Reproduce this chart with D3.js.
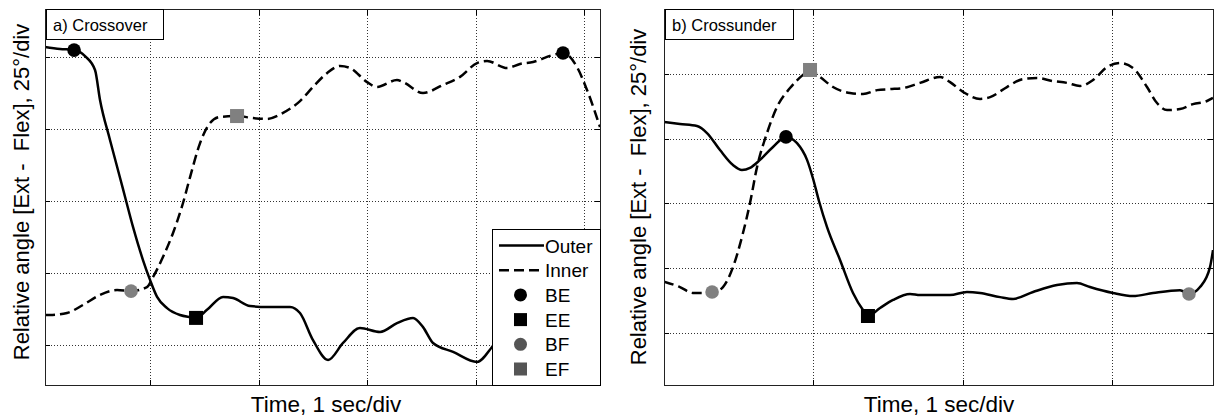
<!DOCTYPE html>
<html>
<head>
<meta charset="utf-8">
<script src="https://cdn.jsdelivr.net/npm/d3@7"></script>
<style>
  html, body { margin: 0; padding: 0; background: #fff; }
  svg { display: block; font-family: "Liberation Sans", Arial, sans-serif; }
</style>
</head>
<body>
<svg id="chart" width="1214" height="419"></svg>
<script>
// ---------------- DATA (time in s, angle in degrees) ----------------
const xTicks_a = [1, 2, 3, 4, 5];
const xTicks_b = [1, 2, 3];
const yTicks = [0, 25, 50, 75, 100];

const outer_a_t = [0.032,0.171,0.300,0.401,0.493,0.539,0.631,0.724,0.770,0.843,0.935,1.000,1.065,1.157,1.276,1.369,1.424,1.525,1.673,1.765,1.922,2.078,2.290,2.382,2.502,2.641,2.779,2.935,3.120,3.276,3.424,3.516,3.608,3.793,4.014,4.152,4.318,4.594,4.871,5.147];
const outer_a_v = [103.5,102.8,102.4,100.3,95.5,85.1,71.2,58.0,51.4,41.0,29.5,22.6,16.7,12.8,10.4,9.7,9.4,12.2,16.7,16.3,13.5,13.2,13.2,11.1,1.7,-5.2,0.7,5.9,4.5,7.6,9.4,6.2,0.7,-2.4,-5.9,-0.7,8.7,15.6,19.1,22.6];

const inner_a_t = [0.032,0.078,0.235,0.382,0.539,0.696,0.825,0.972,1.028,1.120,1.212,1.304,1.369,1.461,1.553,1.645,1.802,1.949,2.078,2.226,2.382,2.502,2.631,2.751,2.843,3.000,3.092,3.276,3.332,3.516,3.700,3.857,4.014,4.106,4.290,4.410,4.530,4.714,4.806,4.935,5.028,5.147];
const inner_a_v = [10.4,10.4,11.1,13.9,17.4,19.1,18.7,20.1,23.6,30.6,38.9,49.3,58.3,70.1,77.1,79.2,79.5,78.8,78.5,80.6,84.7,89.6,94.4,96.9,96.2,91.3,89.6,92.0,91.3,87.5,90.3,93.1,97.9,98.6,96.2,97.6,98.3,100.7,101.4,96.5,88.5,75.7];

const outer_b_t = [0,0.107,0.221,0.288,0.375,0.462,0.522,0.576,0.643,0.730,0.817,0.891,0.958,0.998,1.038,1.092,1.179,1.266,1.333,1.366,1.447,1.534,1.648,1.715,1.915,2.029,2.117,2.251,2.338,2.472,2.632,2.766,2.853,3.007,3.141,3.275,3.456,3.516,3.590,3.657,3.677];
const outer_b_v = [81.5,80.7,79.9,77.2,70.6,64.8,62.9,63.7,66.8,71.8,75.7,73.3,66.8,59.6,50.9,40.8,28.1,15.3,8.7,6.4,9.5,12.6,14.9,14.5,14.5,15.7,15.3,13.7,13.0,15.7,18.4,19.2,17.6,15.3,14.1,15.3,16.4,14.9,17.6,25.3,31.9];

const inner_b_t = [0,0.107,0.194,0.322,0.395,0.462,0.529,0.576,0.623,0.690,0.757,0.844,0.931,0.978,1.045,1.132,1.246,1.333,1.427,1.514,1.601,1.715,1.849,1.916,2.003,2.117,2.184,2.297,2.405,2.498,2.605,2.699,2.786,2.873,2.967,3.054,3.141,3.235,3.302,3.369,3.456,3.543,3.637,3.677];
const inner_b_v = [19.7,17.6,15.3,15.3,17.6,25.3,38.5,50.1,64.0,77.2,87.3,94.6,99.7,101.6,98.9,95.0,92.7,92.3,93.8,94.2,94.6,96.6,98.9,96.9,93.1,90.4,91.1,95.0,98.1,98.5,97.3,96.6,95.4,97.7,102.7,104.3,102.4,95.0,88.8,86.1,86.5,88.4,89.6,90.8];

const markerNames = ["BE", "EE", "BF", "EF"];
const markers_a_name = ["BE", "BF", "EE", "EF", "BE"];
const markers_a_t = [0.300, 0.825, 1.424, 1.802, 4.806];
const markers_a_v = [102.4, 18.7, 9.4, 79.5, 101.4];
const markers_b_name = ["BF", "EF", "BE", "EE", "BF"];
const markers_b_t = [0.322, 0.978, 0.817, 1.366, 3.516];
const markers_b_v = [15.7, 101.6, 75.7, 6.4, 14.9];

const seriesNames = ["Outer", "Inner"];
const titles = ["a) Crossover", "b) Crossunder"];
const xLabel = "Time, 1 sec/div";
const yLabel = "Relative angle [Ext -\u00a0 Flex], 25\u00b0/div";

// ---------------- DRAWING ----------------
const svg = d3.select("#chart");
const markerStyle = {
  BE: {shape: "circle", color: "#000"},
  EE: {shape: "square", color: "#000"},
  BF: {shape: "circle", color: "#808080"},
  EF: {shape: "square", color: "#808080"}
};

function zip(t, v) { return t.map((d, i) => [d, v[i]]); }

const panels = [
  { id: "a", left: 45, right: 600, top: 9.5, bottom: 385,
    xDom: [0.032, 5.147], yDom: [-13.9, 116.5], xTicks: xTicks_a,
    outer: zip(outer_a_t, outer_a_v), inner: zip(inner_a_t, inner_a_v),
    mName: markers_a_name, mT: markers_a_t, mV: markers_a_v,
    title: titles[0], titleW: 117.5, legend: true,
    yLabX: 28.5, yLabY: 192, xLabX: 326 },
  { id: "b", left: 664, right: 1213, top: 9.5, bottom: 385,
    xDom: [0, 3.677], yDom: [-20.3, 125], xTicks: xTicks_b,
    outer: zip(outer_b_t, outer_b_v), inner: zip(inner_b_t, inner_b_v),
    mName: markers_b_name, mT: markers_b_t, mV: markers_b_v,
    title: titles[1], titleW: 128, legend: false,
    yLabX: 646, yLabY: 197, xLabX: 939 }
];

panels.forEach(p => {
  const x = d3.scaleLinear().domain(p.xDom).range([p.left, p.right]);
  const y = d3.scaleLinear().domain(p.yDom).range([p.bottom, p.top]);
  const W = p.right - p.left, H = p.bottom - p.top;
  const g = svg.append("g");

  g.append("defs").append("clipPath").attr("id", "clip-" + p.id)
    .append("rect").attr("x", p.left).attr("y", p.top).attr("width", W).attr("height", H);

  // grid
  const gx = g.append("g").attr("transform", `translate(0,${p.bottom})`)
    .call(d3.axisBottom(x).tickValues(p.xTicks).tickSize(-H).tickFormat(""));
  const gy = g.append("g").attr("transform", `translate(${p.left},0)`)
    .call(d3.axisLeft(y).tickValues(yTicks).tickSize(-W).tickFormat(""));
  [gx, gy].forEach(a => {
    a.select(".domain").remove();
    a.selectAll("line").attr("stroke", "#333").attr("stroke-width", 1)
      .attr("stroke-dasharray", "1,2").attr("shape-rendering", "crispEdges");
  });

  const plot = g.append("g").attr("clip-path", `url(#clip-${p.id})`);
  const line = d3.line().x(d => x(d[0])).y(d => y(d[1])).curve(d3.curveMonotoneX);
  plot.append("path").datum(p.outer).attr("d", line)
    .attr("fill", "none").attr("stroke", "#000").attr("stroke-width", 2.5)
    .attr("stroke-linejoin", "round");
  plot.append("path").datum(p.inner).attr("d", line)
    .attr("fill", "none").attr("stroke", "#000").attr("stroke-width", 2.5)
    .attr("stroke-dasharray", "10,5");

  // markers
  p.mName.forEach((n, i) => {
    const s = markerStyle[n];
    const cx = x(p.mT[i]), cy = y(p.mV[i]);
    if (s.shape === "circle") {
      plot.append("circle").attr("cx", cx).attr("cy", cy).attr("r", 6.8).attr("fill", s.color);
    } else {
      plot.append("rect").attr("x", cx - 7).attr("y", cy - 7).attr("width", 14).attr("height", 14).attr("fill", s.color);
    }
  });

  // ticks on all four sides (inward)
  const tk = [
    g.append("g").attr("transform", `translate(0,${p.bottom})`).call(d3.axisBottom(x).tickValues(p.xTicks).tickSize(-5).tickFormat("")),
    g.append("g").attr("transform", `translate(0,${p.top})`).call(d3.axisTop(x).tickValues(p.xTicks).tickSize(-5).tickFormat("")),
    g.append("g").attr("transform", `translate(${p.left},0)`).call(d3.axisLeft(y).tickValues(yTicks).tickSize(-5).tickFormat("")),
    g.append("g").attr("transform", `translate(${p.right},0)`).call(d3.axisRight(y).tickValues(yTicks).tickSize(-5).tickFormat(""))
  ];
  tk.forEach(a => {
    a.select(".domain").remove();
    a.selectAll("line").attr("stroke", "#000").attr("stroke-width", 1).attr("shape-rendering", "crispEdges");
  });

  // border
  g.append("rect").attr("x", p.left).attr("y", p.top).attr("width", W).attr("height", H)
    .attr("fill", "none").attr("stroke", "#222").attr("stroke-width", 1).attr("shape-rendering", "crispEdges");

  // title box
  g.append("rect").attr("x", p.left + 1).attr("y", p.top).attr("width", p.titleW).attr("height", 29.5)
    .attr("fill", "#fff").attr("stroke", "#000").attr("stroke-width", 1).attr("shape-rendering", "crispEdges");
  g.append("text").attr("x", p.left + 8).attr("y", p.top + 21.5)
    .attr("font-size", "16.5px").attr("fill", "#000").text(p.title);

  // axis labels
  g.append("text").attr("x", p.xLabX).attr("y", 412).attr("text-anchor", "middle")
    .attr("font-size", "22.5px").attr("fill", "#000").text(xLabel);
  g.append("text").attr("transform", `translate(${p.yLabX},${p.yLabY}) rotate(-90)`)
    .attr("text-anchor", "middle").attr("font-size", "22px").attr("fill", "#000").text(yLabel);

  // legend
  if (p.legend) {
    const lg = g.append("g");
    const lx = 492, ly = 229;
    lg.append("rect").attr("x", lx).attr("y", ly).attr("width", p.right - lx).attr("height", p.bottom - ly)
      .attr("fill", "#fff").attr("stroke", "#000").attr("stroke-width", 1).attr("shape-rendering", "crispEdges");
    const rowY = i => ly + 16.5 + i * 24.7;
    seriesNames.forEach((n, i) => {
      lg.append("line").attr("x1", lx + 7).attr("x2", lx + 52).attr("y1", rowY(i)).attr("y2", rowY(i))
        .attr("stroke", "#000").attr("stroke-width", 2.5)
        .attr("stroke-dasharray", i === 1 ? "10,5" : null);
      lg.append("text").attr("x", lx + 53).attr("y", rowY(i) + 7).attr("font-size", "19px").text(n);
    });
    const legColor = {BE: "#000", EE: "#000", BF: "#555", EF: "#555"};
    markerNames.forEach((n, j) => {
      const i = j + 2, cy = rowY(i), cx = lx + 28.5;
      if (markerStyle[n].shape === "circle") {
        lg.append("circle").attr("cx", cx).attr("cy", cy).attr("r", 6.5).attr("fill", legColor[n]);
      } else {
        lg.append("rect").attr("x", cx - 6.5).attr("y", cy - 6.5).attr("width", 13).attr("height", 13).attr("fill", legColor[n]);
      }
      lg.append("text").attr("x", lx + 53).attr("y", cy + 7).attr("font-size", "19px").text(n);
    });
  }
});
</script>
</body>
</html>
